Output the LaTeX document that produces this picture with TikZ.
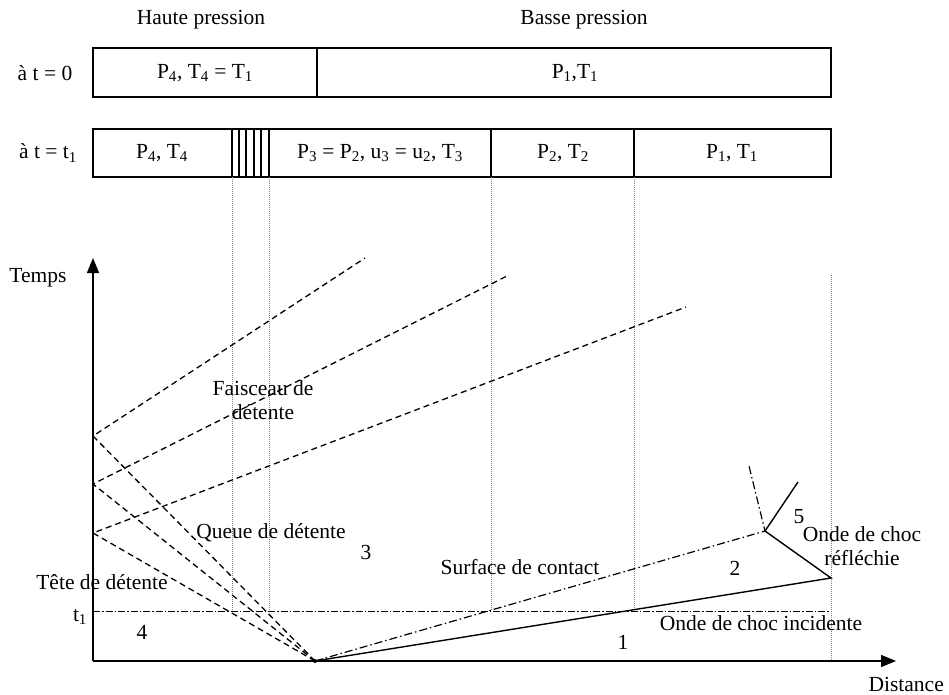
\documentclass[tikz,border=0pt]{standalone}
\usepackage{fontspec}
\setmainfont{Liberation Serif}
\usetikzlibrary{arrows.meta}
\begin{document}
\begin{tikzpicture}[x=1pt,y=-1pt,
  lbl/.style={font=\fontsize{21.5}{24}\selectfont, inner sep=0pt, align=center},
  boxline/.style={line width=1.1pt},
  wave/.style={line width=1.3pt, dash pattern=on 6pt off 4pt},
  contact/.style={line width=1.2pt, dash pattern=on 8pt off 3pt on 1.5pt off 3pt},
  guide/.style={line width=0.7pt, gray, dash pattern=on 1pt off 1pt},
  tline/.style={line width=0.9pt, dash pattern=on 7pt off 2pt on 1.5pt off 2pt},
  shock/.style={line width=1.4pt},
  axis/.style={line width=1.3pt, -{Triangle[length=15pt,width=12pt]}}]
\useasboundingbox (0,0) rectangle (949,695);

% top labels
\node[lbl] (hp) at (201,20) {Haute pression};
\node[lbl] (bp) at (584,20) {Basse pression};

% box at t = 0
\node[lbl] (t0) at (45,73) {à t = 0};
\coordinate (A0) at (93,48);
\coordinate (B0) at (831,97);
\coordinate (D0t) at (317,48);
\coordinate (D0b) at (317,97);
\draw[boxline] (A0) rectangle (B0);
\draw[boxline] (D0t) -- (D0b);
\node[lbl] (p4a) at (205,73) {P\textsubscript{4}, T\textsubscript{4} = T\textsubscript{1}};
\node[lbl] (p1a) at (575,73) {P\textsubscript{1},T\textsubscript{1}};

% box at t = t1
\node[lbl] (tt1) at (48,153) {à t = t\textsubscript{1}};
\coordinate (A1) at (93,129);
\coordinate (B1) at (831,177);
\draw[boxline] (A1) rectangle (B1);
\foreach \xx/\nm in {232/f1,239/f2,246/f3,254/f4,261/f5,269/f6,491/f7} {
  \coordinate (\nm t) at (\xx,129);
  \coordinate (\nm b) at (\xx,177);
  \draw[boxline] (\nm t) -- (\nm b);
}
\coordinate (f8t) at (634,129);
\coordinate (f8b) at (634,177);
\draw[line width=2.5pt] (f8t) -- (f8b);
\node[lbl] (p4b) at (162,153) {P\textsubscript{4}, T\textsubscript{4}};
\node[lbl] (p3b) at (380,153) {P\textsubscript{3} = P\textsubscript{2}, u\textsubscript{3} = u\textsubscript{2}, T\textsubscript{3}};
\node[lbl] (p2b) at (563,153) {P\textsubscript{2}, T\textsubscript{2}};
\node[lbl] (p1b) at (732,153) {P\textsubscript{1}, T\textsubscript{1}};

% guide lines
\coordinate (g1) at (232,611);
\coordinate (g2) at (269,611);
\coordinate (g3) at (491,611);
\coordinate (g4) at (634,611);
\coordinate (g5t) at (831,275);
\coordinate (g5b) at (831,661);
\draw[guide] (f1b) -- (g1);
\draw[guide] (f6b) -- (g2);
\draw[guide] (f7b) -- (g3);
\draw[guide] (f8b) -- (g4);
\draw[guide] (g5t) -- (g5b);

% t1 line
\coordinate (t1l) at (93,611);
\coordinate (t1r) at (829,611);
\draw[tline] (t1l) -- (t1r);
\node[lbl] (t1lab) at (80,617) {t\textsubscript{1}};

% axes
\coordinate (O) at (93,661);
\coordinate (Ytop) at (93,258);
\coordinate (Xend) at (896,661);
\draw[axis] (O) -- (Ytop);
\draw[axis] (O) -- (Xend);
\node[lbl] (temps) at (38,278) {Temps};
\node[lbl, anchor=east] (dist) at (944,684) {Distance};

% diaphragm origin
\coordinate (D) at (315,661);
\fill (D) circle (2pt);

% expansion fan
\coordinate (h1) at (93,436);
\coordinate (h2) at (93,484);
\coordinate (h3) at (93,533);
\coordinate (r1) at (365,258);
\coordinate (r2) at (507,276);
\coordinate (r3) at (686,307);
\draw[wave] (D) -- (h1) -- (r1);
\draw[wave] (D) -- (h2) -- (r2);
\draw[wave] (D) -- (h3) -- (r3);

% shock and contact
\coordinate (S) at (831,578);
\coordinate (C) at (765,531);
\coordinate (Rs) at (798,482);
\coordinate (Ct) at (749,466);
\draw[shock] (D) -- (S) -- (C) -- (Rs);
\draw[contact] (D) -- (C) -- (Ct);

% labels
\node[lbl] (fais) at (263,400) {Faisceau de\\détente};
\node[lbl] (queue) at (271,533) {Queue de détente};
\node[lbl] (n3) at (366,552) {3};
\node[lbl] (tete) at (102,582) {Tête de détente};
\node[lbl] (n4) at (142,632) {4};
\node[lbl] (surf) at (520,567) {Surface de contact};
\node[lbl] (n2) at (735,568) {2};
\node[lbl] (n1) at (623,642) {1};
\node[lbl] (n5) at (799,517) {5};
\node[lbl] (refl) at (862,546) {Onde de choc\\réfléchie};
\node[lbl] (inc) at (761,623) {Onde de choc incidente};
\end{tikzpicture}
\end{document}
